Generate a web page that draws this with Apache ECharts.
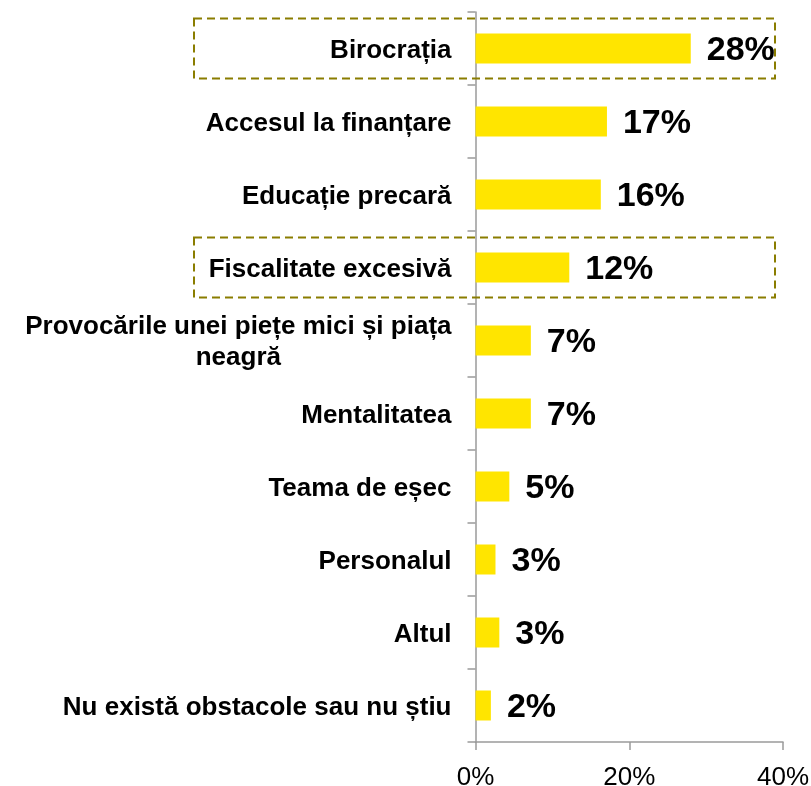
<!DOCTYPE html>
<html lang="ro">
<head>
<meta charset="UTF-8">
<title>Obstacole</title>
<script src="https://cdn.jsdelivr.net/npm/echarts@6/dist/echarts.min.js"></script>
<style>
html, body { margin: 0; padding: 0; background: #fff; }
#chart { width: 811px; height: 786px; }
</style>
</head>
<body>
<div id="chart"></div>
<script>
const categories = [
  'Birocrația',
  'Accesul la finanțare',
  'Educație precară',
  'Fiscalitate excesivă',
  'Provocările unei piețe mici și piața\nneagră',
  'Mentalitatea',
  'Teama de eșec',
  'Personalul',
  'Altul',
  'Nu există obstacole sau nu știu'
];
const values = [28, 17.1, 16.3, 12.2, 7.2, 7.2, 4.4, 2.6, 3.1, 2.0];
const valueLabels = ['28%', '17%', '16%', '12%', '7%', '7%', '5%', '3%', '3%', '2%'];
const xTicks = [0, 20, 40];
const boxed = ['Birocrația', 'Fiscalitate excesivă'];

const font = '"Liberation Sans", Arial, sans-serif';
const chart = echarts.init(document.getElementById('chart'));

const option = {
  animation: false,
  grid: { left: 475.5, right: 28, top: 12, bottom: 44, outerBoundsMode: 'none' },
  xAxis: {
    type: 'value',
    min: xTicks[0],
    max: xTicks[xTicks.length - 1],
    interval: xTicks[1] - xTicks[0],
    axisLine: { show: true, lineStyle: { color: '#9a9a9a', width: 1.5 } },
    axisTick: { show: true, length: 8, lineStyle: { color: '#9a9a9a', width: 1.5 } },
    splitLine: { show: false },
    axisLabel: {
      margin: 23,
      fontSize: 26,
      fontFamily: font,
      color: '#000',
      formatter: v => v + '%'
    }
  },
  yAxis: {
    type: 'category',
    inverse: true,
    data: categories,
    axisLine: { show: true, lineStyle: { color: '#9a9a9a', width: 1.5 } },
    axisTick: { show: true, length: 8, lineStyle: { color: '#9a9a9a', width: 1.5 } },
    axisLabel: {
      margin: 24,
      fontSize: 26,
      fontWeight: 'bold',
      fontFamily: font,
      color: '#000',
      lineHeight: 31,
      align: 'right',
      padding: [4, 0, 0, 0],
      formatter: v => {
        if (v.indexOf('\n') < 0) return v;
        return v.split('\n').map(s => '{c|' + s + '}').join('\n');
      },
      rich: {
        c: {
          align: 'center',
          fontSize: 26,
          fontWeight: 'bold',
          fontFamily: font,
          color: '#000',
          lineHeight: 31
        }
      }
    }
  },
  series: [{
    type: 'bar',
    data: values,
    barWidth: 30,
    itemStyle: { color: '#FFE500' },
    label: {
      show: true,
      position: 'right',
      distance: 16,
      offset: [0, 2],
      fontSize: 34,
      fontWeight: 'bold',
      fontFamily: font,
      color: '#000',
      formatter: p => valueLabels[p.dataIndex]
    }
  }]
};

chart.setOption(option);

// dashed highlight boxes around selected rows, placed from the axis scales
function drawBoxes() {
  const xRight = chart.convertToPixel({ xAxisIndex: 0 }, xTicks[xTicks.length - 1]) - 8;
  const xLeft = 194;
  const half = 30;
  const shapes = boxed.map(name => {
    const yc = chart.convertToPixel({ yAxisIndex: 0 }, name);
    return {
      type: 'rect',
      shape: { x: xLeft, y: yc - half, width: xRight - xLeft, height: half * 2 },
      style: { fill: 'none', stroke: '#8a7d00', lineWidth: 2, lineDash: [8, 5] },
      z: 10
    };
  });
  chart.setOption({ graphic: shapes });
}
drawBoxes();
</script>
</body>
</html>
